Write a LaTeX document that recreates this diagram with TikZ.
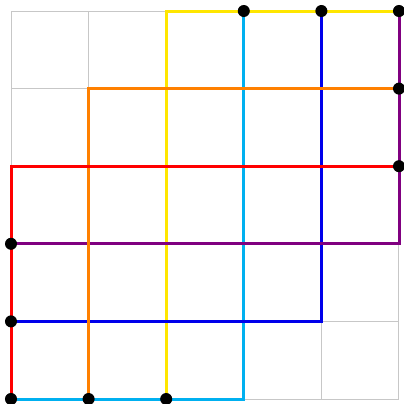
\documentclass[tikz,border=0pt]{standalone}
\usetikzlibrary{calc}
\definecolor{cyellow}{RGB}{255,230,0}
\definecolor{ccyan}{RGB}{0,176,240}
\definecolor{cblue}{RGB}{0,0,235}
\definecolor{cpurple}{RGB}{128,0,128}
\definecolor{corange}{RGB}{255,128,0}
\definecolor{cred}{RGB}{255,0,0}
\tikzset{
  gridline/.style={draw=black!22, line width=0.35pt},
  route/.style={line width=1.1pt},
  dot/.style={circle, fill=black, inner sep=0pt, minimum size=0.155cm}
}
\begin{document}
\begin{tikzpicture}[x=1cm,y=1cm]
\useasboundingbox (-0.1418,-0.0644) rectangle (5.0644,5.1418);
\draw[gridline] (0,0) grid (5,5);
% named points
\foreach \i in {0,...,5}{\foreach \j in {0,...,5}{\coordinate (p\i\j) at (\i,\j);}}
\draw[route, cyellow] (p20) -- (p25) -- (p55);
\draw[route, ccyan] (p00) -- (p30) -- (p35);
\draw[route, cblue] (p01) -- (p41) -- (p45);
\draw[route, cpurple] (p02) -- (p52) -- (p55);
\draw[route, corange] (p10) -- (p14) -- (p54);
\draw[route, cred] (p00) -- (p03) -- (p53);
\foreach \p in {p35,p45,p55,p54,p53,p02,p01,p00,p10,p20}{
  \node[dot] (d\p) at (\p) {};
}
\end{tikzpicture}
\end{document}
